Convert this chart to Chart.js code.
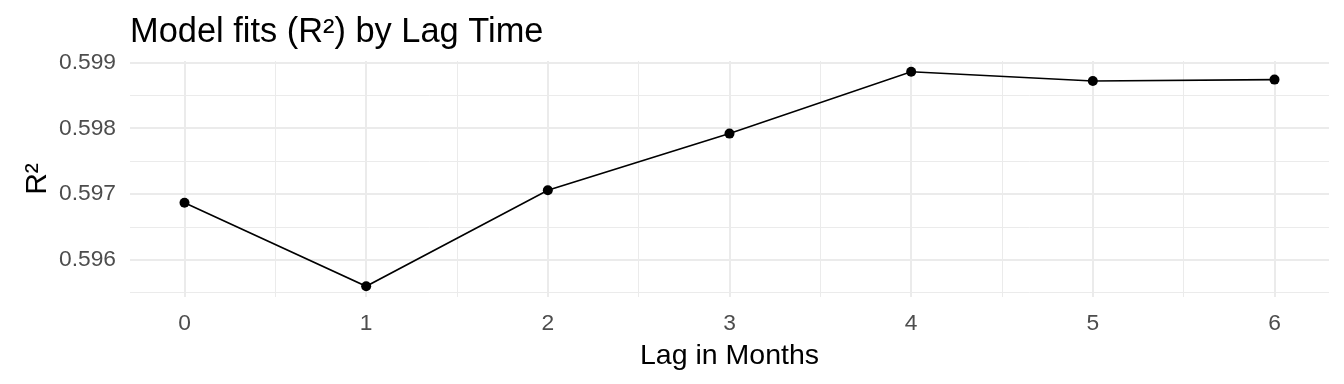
<!DOCTYPE html>
<html>
<head>
<meta charset="utf-8">
<script src="https://cdn.jsdelivr.net/npm/chart.js@4"></script>
<style>
  html, body { margin: 0; padding: 0; background: #fff; }
</style>
</head>
<body>
<canvas id="chart" width="1344" height="384"></canvas>
<script>
// data
const lags = [0, 1, 2, 3, 4, 5, 6];
const rSquared = [0.59687, 0.59560, 0.59706, 0.59792, 0.59886, 0.59872, 0.59874];

// tick positions (majors get labels, halves are minor grid lines)
const xTicks = [0, 0.5, 1, 1.5, 2, 2.5, 3, 3.5, 4, 4.5, 5, 5.5, 6];
const yTicks = [0.5955, 0.596, 0.5965, 0.597, 0.5975, 0.598, 0.5985, 0.599];

const plotTitle = 'Model fits (R²) by Lag Time';
const xTitle = 'Lag in Months';
const yTitle = 'R²';

const FONT = '"Liberation Sans", Arial, sans-serif';
const GRID = '#ebebeb';

// ggplot style 5% expansion
function expand(values) {
    const lo = Math.min(...values), hi = Math.max(...values);
    const pad = (hi - lo) * 0.05;
    return { min: lo - pad, max: hi + pad };
}
const xRange = expand(lags);
const yRange = expand(rSquared);

const isMajor = (v, step) => Math.abs(v / step - Math.round(v / step)) < 1e-6;

// title sits on the left edge of the panel, like ggplot
const titlePlugin = {
    id: 'plotTitle',
    afterDraw(chart) {
        const { ctx, chartArea } = chart;
        ctx.save();
        ctx.font = '34.4px ' + FONT;
        ctx.fillStyle = '#000';
        ctx.textBaseline = 'alphabetic';
        ctx.textAlign = 'left';
        ctx.fillText(plotTitle, chartArea.left, 42);
        ctx.restore();
    }
};

new Chart(document.getElementById('chart'), {
    type: 'line',
    data: {
        datasets: [{
            data: lags.map((x, i) => ({ x: x, y: rSquared[i] })),
            borderColor: '#000',
            backgroundColor: '#000',
            borderWidth: 1.6,
            pointRadius: 5,
            pointHoverRadius: 5,
            pointBorderWidth: 0,
            tension: 0
        }]
    },
    options: {
        responsive: false,
        animation: false,
        devicePixelRatio: 1,
        layout: { padding: { top: 61, right: 15, bottom: 0, left: 0 } },
        plugins: {
            legend: { display: false },
            tooltip: { enabled: false }
        },
        scales: {
            x: {
                type: 'linear',
                min: xRange.min,
                max: xRange.max,
                afterBuildTicks: axis => { axis.ticks = xTicks.map(v => ({ value: v })); },
                afterFit: axis => { axis.height = 87; },
                border: { display: false },
                grid: {
                    color: GRID,
                    lineWidth: c => isMajor(c.tick.value, 1) ? 2 : 1,
                    drawTicks: false
                },
                ticks: {
                    padding: 13,
                    color: '#4d4d4d',
                    font: { family: FONT, size: 22.8 },
                    maxRotation: 0,
                    autoSkip: false,
                    callback: v => isMajor(v, 1) ? String(v) : ''
                },
                title: {
                    display: true,
                    text: xTitle,
                    color: '#000',
                    font: { family: FONT, size: 28.5 },
                    padding: { top: 0, bottom: 11 }
                }
            },
            y: {
                type: 'linear',
                min: yRange.min,
                max: yRange.max,
                afterBuildTicks: axis => { axis.ticks = yTicks.map(v => ({ value: v })); },
                afterFit: axis => { axis.width = 130; },
                border: { display: false },
                grid: {
                    color: GRID,
                    lineWidth: c => isMajor(c.tick.value, 0.001) ? 2 : 1,
                    drawTicks: false
                },
                ticks: {
                    padding: 14,
                    color: '#4d4d4d',
                    font: { family: FONT, size: 22.8 },
                    autoSkip: false,
                    callback: v => isMajor(v, 0.001) ? v.toFixed(3) : ''
                },
                title: {
                    display: true,
                    text: yTitle,
                    color: '#000',
                    font: { family: FONT, size: 30 },
                    padding: { top: 20, bottom: 0 }
                }
            }
        }
    },
    plugins: [titlePlugin]
});
</script>
</body>
</html>
